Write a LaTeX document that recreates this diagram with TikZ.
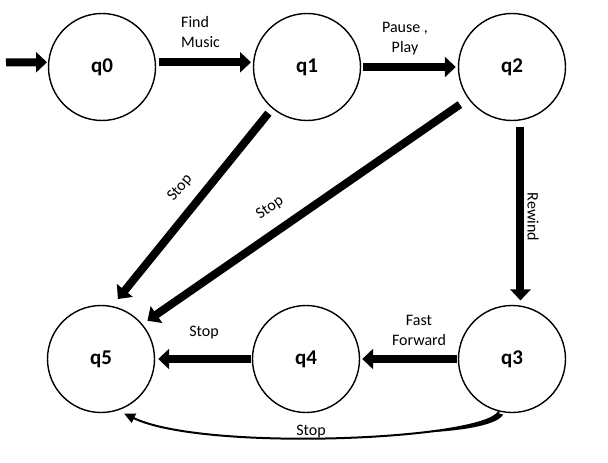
\documentclass[tikz,border=0pt]{standalone}
\usepackage{fontspec}
\setmainfont{Carlito}
\usetikzlibrary{arrows.meta}
\begin{document}
\begin{tikzpicture}[x=1pt,y=-1pt,
  state/.style={circle,draw,line width=1.4pt,minimum size=107pt,inner sep=0pt,font=\fontsize{21}{24}\selectfont\bfseries},
  bigarrow/.style={line width=8pt,-{Triangle[width=20pt,length=11pt]}},
  lbl/.style={font=\fontsize{16}{20}\selectfont,inner sep=0pt,align=center}]
\useasboundingbox[fill=white] (0,0) rectangle (608,463);
\node[state] (q0) at (102,67) {q0};
\node[state] (q1) at (307,67) {q1};
\node[state] (q2) at (512,67) {q2};
\node[state] (q5) at (101,359) {q5};
\node[state] (q4) at (306,359) {q4};
\node[state] (q3) at (512,359) {q3};
\coordinate (start) at (6,62.3);
% arrows
\draw[bigarrow,shorten >=1pt] (start) -- (q0.175);
\draw[bigarrow,shorten <=3pt,shorten >=2pt] (q0.5) -- (q1.175);
\draw[bigarrow,shorten <=2pt,shorten >=2pt] (q1) -- (q2);
\draw[bigarrow,shorten <=6pt,shorten >=9pt] (q1.230) -- (q5.78);
\draw[bigarrow,shorten <=10pt,shorten >=6pt] (q2.216) -- (q5.40);
\draw[bigarrow,shorten <=6pt,shorten >=5pt] (q2.-81.5) -- (q3.81.5);
\draw[bigarrow,shorten <=1pt,shorten >=2pt] (q3) -- (q4);
\draw[bigarrow,shorten <=1pt,shorten >=3pt] (q4) -- (q5);
% curved arrow
\draw[line width=2pt,shorten >=7pt,-{Triangle[width=10pt,length=11pt]}] (q3.-104.5) .. controls (485,440) and (205,452) .. (q5.-72);
\fill (498,413) .. controls (494.1,421.1) and (466.2,427.9) .. (426.8,432.4)
      .. controls (467,430.5) and (498.5,424) .. (503,414.5) -- cycle;
% labels
\node[lbl,align=left,anchor=west] at (181,32) {Find\\Music};
\node[lbl] at (405,39) {Pause ,\\Play};
\node[lbl,rotate=50] at (180,188) {Stop};
\node[lbl,rotate=34.6] at (270,208) {Stop};
\node[lbl,rotate=-90] at (533,217) {Rewind};
\node[lbl] at (419,330) {Fast\\Forward};
\node[lbl] at (204,333) {Stop};
\node[lbl] at (311,432) {Stop};
\end{tikzpicture}
\end{document}
